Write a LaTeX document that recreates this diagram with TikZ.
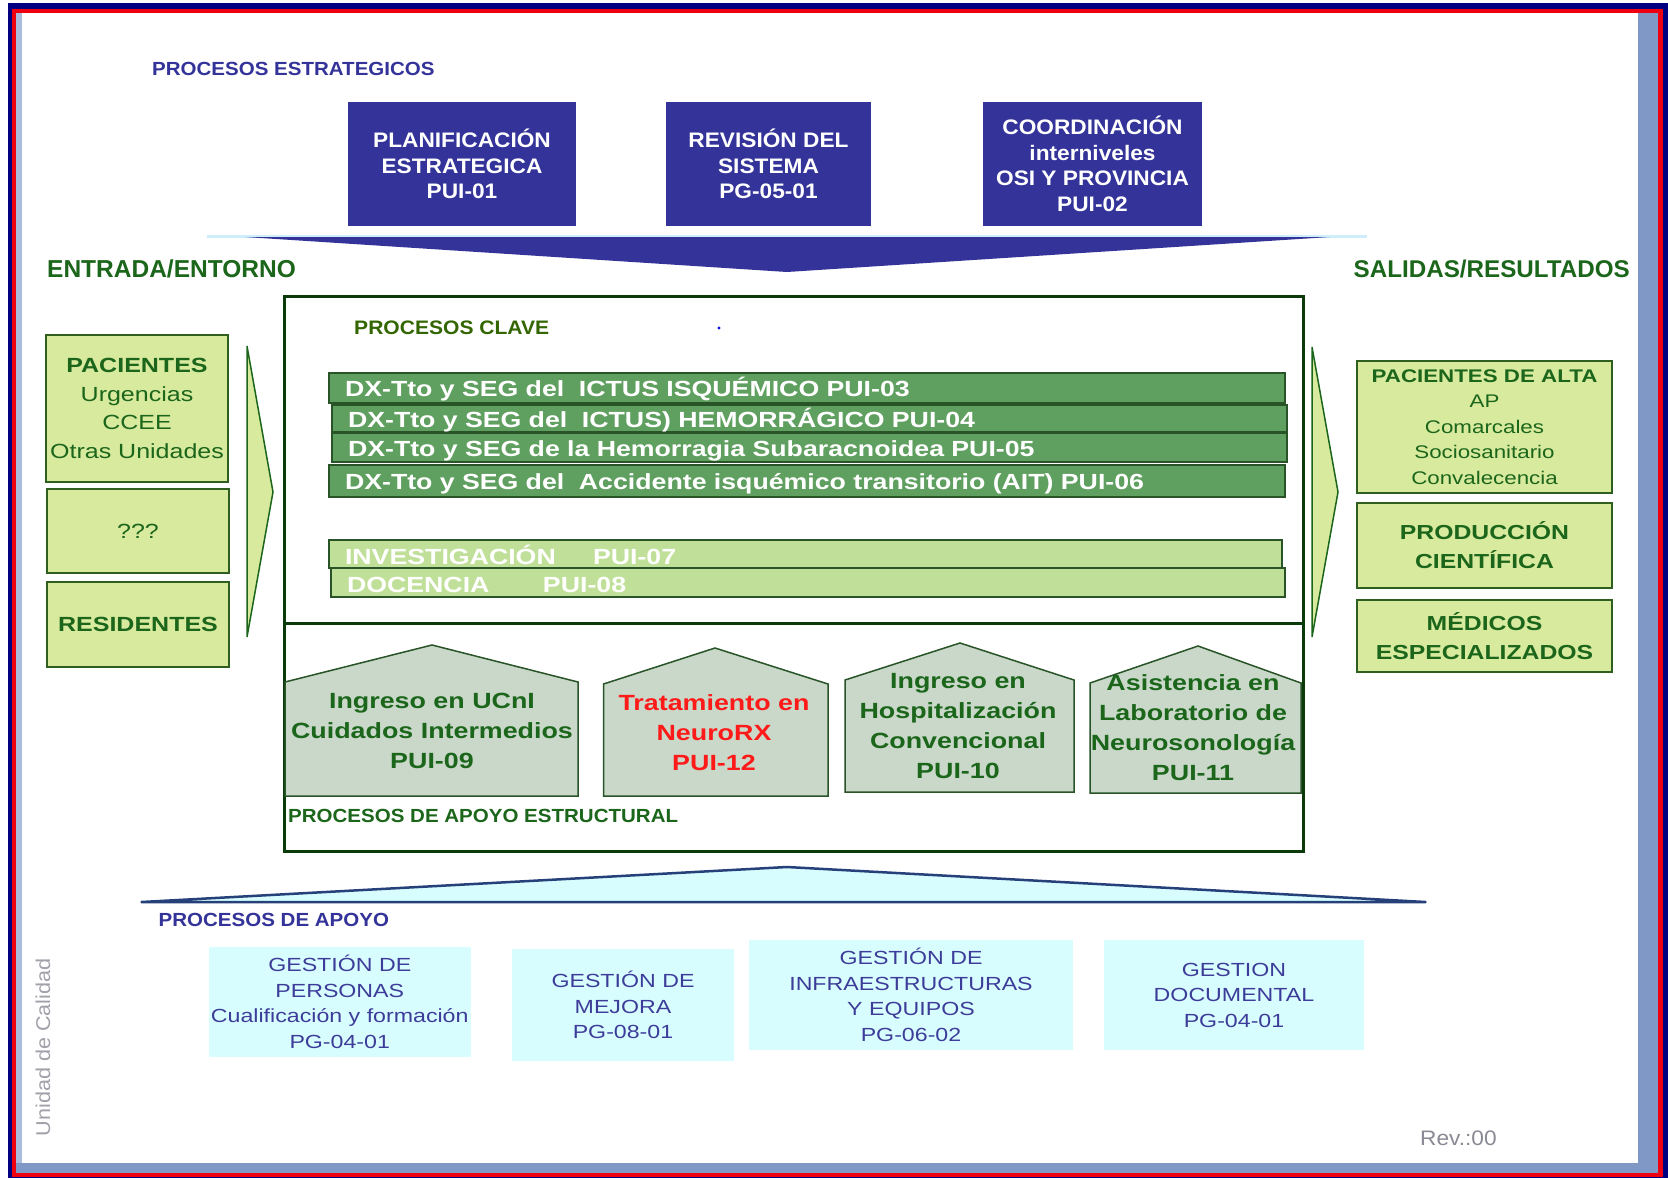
\documentclass[tikz,border=0pt]{standalone}
\usepackage{fontspec}
\setmainfont{Liberation Sans}
\newfontfamily\fA{Liberation Sans}
\newfontfamily\fB{Liberation Sans}[FakeStretch=1.08]
\newfontfamily\fC{Liberation Sans}[FakeStretch=1.22]
\definecolor{navy}{HTML}{333399}
\definecolor{framenavy}{HTML}{000080}
\definecolor{framered}{HTML}{EE0010}
\definecolor{shadowblue}{HTML}{7F98C6}
\definecolor{shadowlight}{HTML}{A9BCDD}
\definecolor{dgreen}{HTML}{1B661B}
\definecolor{olivegreen}{HTML}{336600}
\definecolor{boxborder}{HTML}{2F5F1F}
\definecolor{paleg}{HTML}{D8EA9E}
\definecolor{barg}{HTML}{5F9F5F}
\definecolor{barlight}{HTML}{C0E09A}
\definecolor{barline}{HTML}{285428}
\definecolor{houseg}{HTML}{C9D8C9}
\definecolor{cyanbox}{HTML}{D8FDFF}
\definecolor{supptext}{HTML}{3D3D99}
\definecolor{keyline}{HTML}{0A3A0A}
\definecolor{rooflines}{HTML}{26407A}
\definecolor{glow}{HTML}{CDEEFA}
\definecolor{graytext}{HTML}{8A8A95}
\definecolor{redtext}{HTML}{FF1A1A}
\tikzset{
  strat/.style={fill=navy, inner sep=0pt, align=center, text=white,
    font=\fB\bfseries\fontsize{21}{25.5}\selectfont, minimum height=124pt},
  lbl/.style={inner sep=0pt, anchor=base west},
  darkbar/.style={draw=barline, line width=1.5pt, fill=barg, inner xsep=16pt, inner ysep=0pt,
    text width=#1, align=left, text=white, text height=19.5pt, text depth=2pt,
    font=\fC\bfseries\fontsize{21.9}{26}\selectfont},
  lightbar/.style={darkbar=#1, fill=barlight, text height=21pt, text depth=1pt},
  inbox/.style={draw=boxborder, line width=2pt, fill=paleg, inner sep=0pt, align=center,
    text=dgreen, minimum width=182pt},
  arrowshape/.style={draw=dgreen, line width=1.5pt, fill=paleg},
  house/.style={draw=barline, line width=1.5pt, fill=houseg},
  housetext/.style={inner sep=0pt, align=center, text=dgreen,
    font=\fC\bfseries\fontsize{22}{30}\selectfont},
  suppbox/.style={fill=cyanbox, inner sep=0pt, align=center, text=supptext,
    font=\fC\fontsize{19}{25.5}\selectfont}
}
\begin{document}
\begin{tikzpicture}[x=1pt,y=-1pt]
\useasboundingbox (0,0) rectangle (1668,1178);
% frame
\fill[white] (0,0) rectangle (1668,1178);
\fill[framenavy] (8,3) rectangle (1668,1178);
\fill[framered] (11.5,9) rectangle (1663,1177);
\fill[shadowblue] (16,13) rectangle (1658,1173);
\fill[shadowlight] (16,13) rectangle (22,1163);
\fill[white] (22,13) rectangle (1638,1163);

% strategic
\node[lbl, text=navy, font=\fB\bfseries\fontsize{19}{22}\selectfont] (lstrat) at (152,75) {PROCESOS ESTRATEGICOS};
\node[strat, minimum width=228pt] (s1) at (462,164) {PLANIFICACIÓN\\ESTRATEGICA\\PUI-01};
\node[strat, minimum width=205pt] (s2) at (768.5,164) {REVISIÓN DEL\\SISTEMA\\PG-05-01};
\node[strat, minimum width=219pt] (s3) at (1092.5,164) {COORDINACIÓN\\interniveles\\OSI Y PROVINCIA\\PUI-02};

% chevron down
\draw[glow, line width=3pt] (207,236) -- (1367,236);
\fill[navy] (245,237) -- (1330,237) -- (787,272) -- cycle;

\node[lbl, text=dgreen, font=\fA\bfseries\fontsize{24.5}{28}\selectfont] (lin) at (47,277) {ENTRADA/ENTORNO};
\node[inner sep=0pt, anchor=base east, text=dgreen, font=\fA\bfseries\fontsize{24.2}{28}\selectfont] (lout) at (1630,277) {SALIDAS/RESULTADOS};

% key processes frame
\node[draw=keyline, line width=3pt, minimum width=1019pt, minimum height=555pt, inner sep=0pt] (key) at (793.5,573.5) {};
\coordinate (dl) at (284,623);
\coordinate (dr) at (1303,623);
\draw[keyline, line width=3pt] (dl) -- (dr);
\node[lbl, text=olivegreen, font=\fB\bfseries\fontsize{19.5}{22}\selectfont] (lclave) at (354,334) {PROCESOS CLAVE};
\fill[blue!70!navy] (719,328) circle (1.6);

\node[darkbar=924pt, minimum width=956pt, minimum height=30pt] (b1) at (807,388) {DX-Tto y SEG del~ ICTUS ISQUÉMICO PUI-03};
\node[darkbar=923pt, minimum width=955pt, minimum height=27pt] (b2) at (809.5,418.5) {DX-Tto y SEG del~ ICTUS) HEMORRÁGICO PUI-04};
\node[darkbar=923pt, minimum width=955pt, minimum height=29pt] (b3) at (809.5,447.5) {DX-Tto y SEG de la Hemorragia Subaracnoidea PUI-05};
\node[darkbar=924pt, minimum width=956pt, minimum height=32pt] (b4) at (807,481) {DX-Tto y SEG del~ Accidente isquémico transitorio (AIT) PUI-06};
\node[lightbar=921pt, minimum width=953pt, minimum height=28pt] (b5) at (805.5,554) {\makebox[248pt][l]{INVESTIGACIÓN}PUI-07};
\node[lightbar=922pt, minimum width=954pt, minimum height=29pt] (b6) at (808,582.5) {\makebox[196pt][l]{DOCENCIA}PUI-08};

% houses
\draw[house] (285,796) -- (285,682) -- (432,645) -- (578,682) -- (578,796) -- cycle;
\draw[house] (603.5,796) -- (603.5,684) -- (715,648) -- (828,684) -- (828,796) -- cycle;
\draw[house] (845,792) -- (845,680) -- (960,643) -- (1074,680) -- (1074,792) -- cycle;
\draw[house] (1090,793) -- (1090,683) -- (1198,646) -- (1301,683) -- (1301,793) -- cycle;
\node[housetext] (h1) at (432,731) {Ingreso en UCnI\\Cuidados Intermedios\\PUI-09};
\node[housetext, text=redtext] (h2) at (714,733) {Tratamiento en\\NeuroRX\\PUI-12};
\node[housetext] (h3) at (958,726) {Ingreso en\\Hospitalización\\Convencional\\PUI-10};
\node[housetext] (h4) at (1193,728) {Asistencia en\\Laboratorio de\\Neurosonología\\PUI-11};
\node[lbl, text=dgreen, font=\fB\bfseries\fontsize{19}{22}\selectfont] (lestr) at (288,822) {PROCESOS DE APOYO ESTRUCTURAL};

% inputs
\node[inbox, minimum height=147pt, font=\fC\fontsize{20.5}{28.7}\selectfont] (in1) at (137,408.5) {{\bfseries PACIENTES}\\Urgencias\\CCEE\\Otras Unidades};
\node[inbox, minimum height=84pt, font=\fC\fontsize{20.5}{28.7}\selectfont] (in2) at (138,531) {???};
\node[inbox, minimum height=85pt, font=\fC\bfseries\fontsize{20.5}{28.7}\selectfont] (in3) at (138,624.5) {RESIDENTES};
\draw[arrowshape] (247,346) -- (273,492) -- (247,637) -- cycle;

% outputs
\draw[arrowshape] (1312,347) -- (1338,492) -- (1312,637) -- cycle;
\node[inbox, minimum width=255pt, minimum height=132pt, font=\fC\fontsize{18.3}{25.6}\selectfont] (o1) at (1484.5,427) {{\bfseries PACIENTES DE ALTA}\\AP\\Comarcales\\Sociosanitario\\Convalecencia};
\node[inbox, minimum width=255pt, minimum height=85pt, font=\fC\bfseries\fontsize{20.3}{29}\selectfont] (o2) at (1484.5,545.5) {PRODUCCIÓN\\CIENTÍFICA};
\node[inbox, minimum width=255pt, minimum height=72pt, font=\fC\bfseries\fontsize{20.3}{29}\selectfont] (o3) at (1484.5,636) {MÉDICOS\\ESPECIALIZADOS};

% support
\fill[cyanbox] (141.5,902) -- (787,867) -- (1425.5,902) -- cycle;
\draw[rooflines, line width=2.5pt, line join=round] (141.5,902) -- (787,867) -- (1425.5,902) -- cycle;
\node[lbl, text=navy, font=\fB\bfseries\fontsize{19}{22}\selectfont] (lapoyo) at (158.5,926) {PROCESOS DE APOYO};
\node[suppbox, minimum width=262.5pt, minimum height=110pt] (sA) at (339.75,1002) {GESTIÓN DE\\PERSONAS\\Cualificación y formación\\PG-04-01};
\node[suppbox, minimum width=222pt, minimum height=112pt] (sB) at (623,1005) {GESTIÓN DE\\MEJORA\\PG-08-01};
\node[suppbox, minimum width=324pt, minimum height=110pt] (sC) at (911,995) {GESTIÓN DE\\INFRAESTRUCTURAS\\Y EQUIPOS\\PG-06-02};
\node[suppbox, minimum width=260pt, minimum height=110pt] (sD) at (1234,995) {GESTION\\DOCUMENTAL\\PG-04-01};

\node[inner sep=0pt, rotate=90, text=graytext!80!white, font=\fB\fontsize{20}{22}\selectfont] (unidad) at (43,1047.5) {Unidad de Calidad};
\node[lbl, text=graytext, font=\fB\fontsize{21}{24}\selectfont] (rev) at (1420,1145.5) {Rev.:00};
\end{tikzpicture}
\end{document}
